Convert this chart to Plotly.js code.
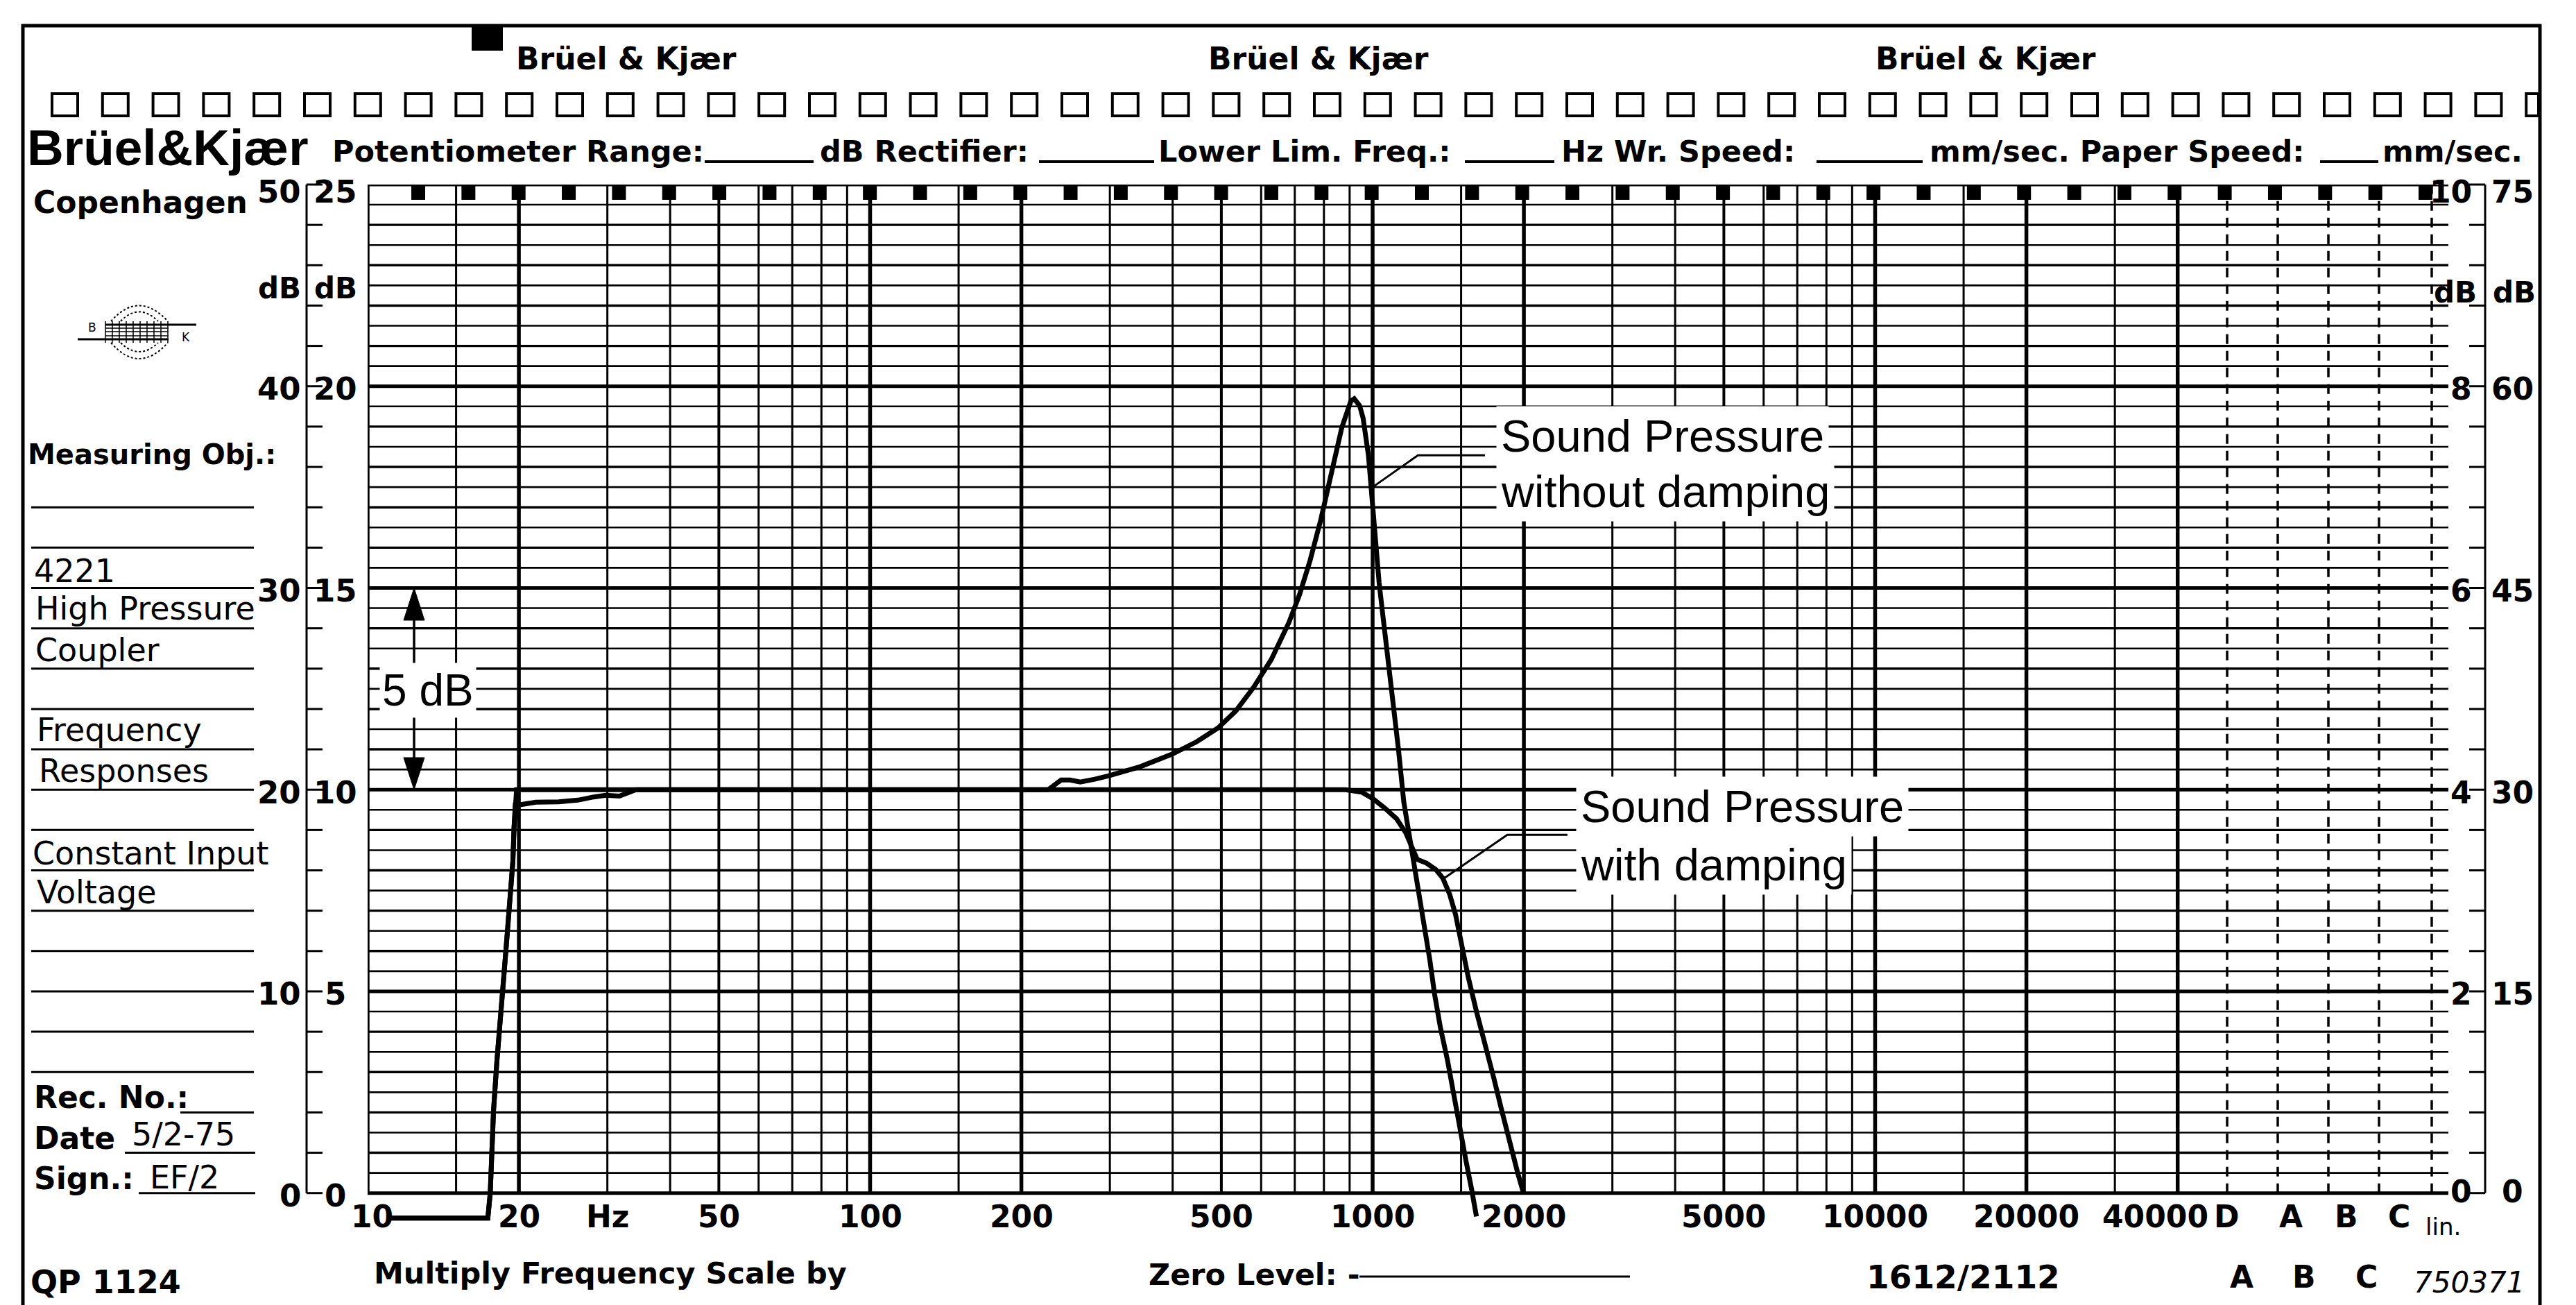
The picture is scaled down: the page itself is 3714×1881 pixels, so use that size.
<!DOCTYPE html>
<html><head><meta charset="utf-8">
<script src="https://cdn.plot.ly/plotly-3.0.1.min.js"></script>
<style>html,body{margin:0;padding:0;background:#fff;overflow:hidden}#chart{width:3714px;height:1881px}</style>
</head><body><div id="chart"></div>
<script>
// ---------------- data (read from the recording) ----------------
const freqWithoutDamping = [11.1, 17.35, 17.54, 17.81, 18.09, 18.37, 18.66, 18.96, 19.26, 19.46, 19.56, 19.67, 20.0, 21.6, 24.0, 26.2, 28.2, 29.8, 31.7, 34.2, 60, 120, 226, 233, 240, 250, 262, 280, 297.9, 344.7, 398.9, 446.8, 492.5, 534.1, 579.2, 628.2, 681.3, 715.2, 750.8, 788.2, 827.4, 868.6, 904.9, 919.3, 942.1, 957.4, 981.0, 997.2, 1013.5, 1030.1, 1046.9, 1072.5, 1099, 1125.9, 1153.7, 1207.6, 1240, 1266.5, 1300.5, 1328.3, 1364, 1409.4, 1447, 1484.8, 1532.9, 1574.7, 1609.2];
const dbWithoutDamping = [-0.62, -0.62, 0, 2.06, 3.29, 4.52, 5.35, 6.42, 7.40, 8.23, 9.05, 9.62, 9.62, 9.69, 9.70, 9.74, 9.82, 9.86, 9.84, 10.0, 10.0, 10.0, 10.0, 10.12, 10.24, 10.24, 10.19, 10.26, 10.34, 10.57, 10.88, 11.19, 11.53, 11.95, 12.53, 13.22, 14.14, 14.83, 15.68, 16.68, 17.90, 18.98, 19.63, 19.69, 19.52, 19.21, 18.29, 17.14, 15.99, 15.14, 14.37, 13.30, 12.15, 10.99, 9.69, 8.23, 7.40, 6.58, 5.76, 4.93, 4.11, 3.29, 2.47, 1.64, 0.82, 0.08, -0.58];
const freqWithDamping = [11.1, 17.35, 17.54, 17.81, 18.09, 18.37, 18.66, 18.96, 19.26, 19.46, 19.56, 19.67, 19.79, 40, 100, 300, 600, 883, 951, 1003, 1058, 1116, 1164, 1202, 1227, 1280, 1336, 1379, 1424, 1462, 1501, 1550, 1608, 1668, 1740, 1806, 1874, 1945, 1997];
const dbWithDamping = [-0.62, -0.62, 0, 2.06, 3.29, 4.52, 5.35, 6.42, 7.40, 8.23, 9.05, 9.62, 10.0, 10.0, 10.0, 10.0, 10.0, 10.0, 9.94, 9.77, 9.54, 9.28, 8.93, 8.51, 8.27, 8.18, 8.02, 7.81, 7.40, 6.91, 6.17, 5.35, 4.52, 3.70, 2.88, 2.06, 1.23, 0.49, 0.0];
const leaderWithoutFreq = [1000, 1231, 1673];
const leaderWithoutDb = [17.5, 18.29, 18.29];
const leaderWithFreq = [1379, 1854, 2442];
const leaderWithDb = [7.78, 8.88, 8.88];

const freqTickValues = [10, 20, 30, 50, 100, 200, 500, 1000, 2000, 5000, 10000, 20000, 40000];
const freqTickLabels = ['10', '20', 'Hz', '50', '100', '200', '500', '1000', '2000', '5000', '10000', '20000', '40000'];
const gridDecades = [10, 100, 1000, 10000];
const gridMultipliers = [1, 1.5, 2, 3, 4, 5, 6, 7, 8, 9];
const gridMaxFreq = 40000;
const filterLabels = ['D', 'A', 'B', 'C', 'lin.'];
const scaleDbValues = [0, 5, 10, 15, 20, 25];
const leftScaleOuter = ['0', '10', '20', '30', '40', '50'];
const leftScaleInner = ['0', '5', '10', '15', '20', '25'];
const rightScaleInner = ['0', '2', '4', '6', '8', '10'];
const rightScaleOuter = ['0', '15', '30', '45', '60', '75'];

// ---------------- geometry ----------------
const W = 3714, H = 1881;
const M = {l: 530, r: 184, t: 266, b: 45};
const PW = W - M.l - M.r, PH = H - M.t - M.b;
const DECADE_PX = 724.5;
const X_RANGE = [1, 1 + PW / DECADE_PX];
const Y_RANGE = [-2, 25];
const px = v => (v - M.l) / PW;
const py = v => (H - M.b - v) / PH;
const dbPy = d => H - M.b - (d - Y_RANGE[0]) / (Y_RANGE[1] - Y_RANGE[0]) * PH;
const freqOfPx = p => Math.pow(10, X_RANGE[0] + (p - M.l) / PW * (X_RANGE[1] - X_RANGE[0]));
const FONT_DJ = '"DejaVu Sans", "Liberation Sans", sans-serif';
const FONT_LS = '"Liberation Sans", Arial, sans-serif';
const INK = '#000';

// ---------------- traces ----------------
const traces = [];
function gridTrace(xs, ys, w, dash) {
  traces.push({type: 'scatter', mode: 'lines', x: xs, y: ys, hoverinfo: 'skip',
    line: {color: INK, width: w, dash: dash || 'solid'}, showlegend: false});
}
// vertical log grid
const vHeavy = {x: [], y: []}, vMed = {x: [], y: []}, vLight = {x: [], y: []};
gridDecades.forEach(d => gridMultipliers.forEach(m => {
  const f = d * m;
  if (f > gridMaxFreq) return;
  const g = (m === 1 || m === 2) ? vHeavy : (m === 5 ? vMed : vLight);
  g.x.push(f, f, null); g.y.push(0, 25, null);
}));
vHeavy.x.push(gridMaxFreq, gridMaxFreq, null); vHeavy.y.push(0, 25, null);
// horizontal grid (0.5 dB)
const hHeavy = {x: [], y: []}, hMed = {x: [], y: []}, hLight = {x: [], y: []};
const xEnd = Math.pow(10, X_RANGE[1]);
for (let k = 0; k <= 50; k++) {
  const d = k / 2;
  const g = (d % 5 === 0) ? hHeavy : (Number.isInteger(d) ? hMed : hLight);
  g.x.push(10, xEnd, null); g.y.push(d, d, null);
}
gridTrace(hLight.x, hLight.y, 2.6);
gridTrace(hMed.x, hMed.y, 3.4);
gridTrace(hHeavy.x, hHeavy.y, 5);
gridTrace(vLight.x, vLight.y, 3);
gridTrace(vMed.x, vMed.y, 4);
gridTrace(vHeavy.x, vHeavy.y, 5.5);
// dashed weighting-filter lines beyond 40 kHz
const filterLinePx = [3211, 3284, 3357, 3430, 3506];
const fl = {x: [], y: []};
filterLinePx.forEach(p => { const f = freqOfPx(p); fl.x.push(f, f, null); fl.y.push(0, 25, null); });
gridTrace(fl.x, fl.y, 3.5, '14px,10px');

// leader lines
gridTrace(leaderWithoutFreq, leaderWithoutDb, 3);
gridTrace(leaderWithFreq, leaderWithDb, 3);

// response curves
traces.push({type: 'scatter', mode: 'lines', name: 'Sound Pressure without damping',
  x: freqWithoutDamping, y: dbWithoutDamping, hoverinfo: 'skip',
  line: {color: INK, width: 7, shape: 'linear'}});
traces.push({type: 'scatter', mode: 'lines', name: 'Sound Pressure with damping',
  x: freqWithDamping, y: dbWithDamping, hoverinfo: 'skip',
  line: {color: INK, width: 7, shape: 'linear'}});

// ---------------- shapes ----------------
const shapes = [];
function lineP(x0, y0, x1, y1, w, dash) {
  shapes.push({type: 'line', xref: 'paper', yref: 'paper', x0: px(x0), y0: py(y0), x1: px(x1), y1: py(y1),
    line: {color: INK, width: w, dash: dash || 'solid'}});
}
function rectP(x0, y0, x1, y1, fill, w) {
  shapes.push({type: 'rect', xref: 'paper', yref: 'paper', x0: px(x0), y0: py(y0), x1: px(x1), y1: py(y1),
    fillcolor: fill || 'rgba(0,0,0,0)', line: {color: INK, width: w || 0}});
}
function pathP(cmds, fill, w, dash) {
  const s = cmds.map(c => typeof c === 'string' ? c : (px(c[0]).toFixed(6) + ',' + py(c[1]).toFixed(6))).join(' ');
  shapes.push({type: 'path', xref: 'paper', yref: 'paper', path: s,
    fillcolor: fill || 'rgba(0,0,0,0)', line: {color: INK, width: w || 0, dash: dash || 'solid'}});
}
// outer frame
lineP(31, 37, 3664, 37, 5);
lineP(33, 35, 33, 1881, 5);
lineP(3662, 35, 3662, 1881, 5);
// header marker & sprocket squares
rectP(680, 38, 725, 73, INK, 0);
for (let k = 0; k < 50; k++) {
  const x0 = 75 + 72.8 * k;
  rectP(x0, 135, Math.min(x0 + 37, 3660), 167, null, 4);
}
// header blanks
[[1016, 1173], [1498, 1664], [2112, 2241], [2619, 2772], [3345, 3429]].forEach(s => lineP(s[0], 233, s[1], 233, 4));
// teeth under the top grid line
for (let k = 0; k <= 40; k++) {
  const c = 603 + 72.35 * k;
  rectP(c - 10, 266, c + 10, 288, INK, 0);
}
// left dB scale
lineP(442, 266, 442, dbPy(0), 3);
for (let d = 0; d <= 25; d++) lineP(442, dbPy(d), 465, dbPy(d), 3);
// right dB scale
lineP(3583, 266, 3583, dbPy(0), 3);
for (let d = 0; d <= 25; d++) lineP(3560, dbPy(d), 3583, dbPy(d), 3);
// form rule lines at left
for (let d = 3; d <= 17; d++) lineP(45, dbPy(d), 366, dbPy(d), 3);
lineP(260, dbPy(2), 366, dbPy(2), 3);
lineP(180, dbPy(1), 368, dbPy(1), 3);
lineP(200, dbPy(0), 368, dbPy(0), 3);
// B&K logo
lineP(152, 468, 283, 468, 3);
lineP(112, 489, 243, 489, 3);
[473, 478, 484].forEach(y => lineP(152, y, 243, y, 1.5));
for (let x = 152; x <= 243; x += 10) lineP(x, 463, x, 494, 1.5);
pathP(['M', [160, 463], 'Q', [200, 418], [242, 463]], null, 2, 'dot');
pathP(['M', [174, 463], 'Q', [200, 436], [228, 463]], null, 2, 'dot');
pathP(['M', [160, 494], 'Q', [200, 540], [242, 494]], null, 2, 'dot');
pathP(['M', [174, 494], 'Q', [200, 520], [228, 494]], null, 2, 'dot');
// 5 dB arrows
const ax = 597;
pathP(['M', [ax - 15, 894], 'L', [ax, dbPy(15)], 'L', [ax + 15, 894], 'Z'], INK, 1);
lineP(ax, 894, ax, 957, 3.5);
lineP(ax, 1030, ax, 1092, 3.5);
pathP(['M', [ax - 15, 1092], 'L', [ax + 15, 1092], 'L', [ax, dbPy(10)], 'Z'], INK, 1);
// zero level blank
lineP(1960, 1840, 2350, 1840, 3);

// ---------------- annotations ----------------
const annotations = [];
function note(text, x, y, o) {
  o = o || {};
  const a = {text: text, xref: 'paper', yref: 'paper', x: px(x), y: py(y),
    xanchor: o.anchor || 'left', yanchor: 'middle', showarrow: false,
    font: {family: o.family || FONT_DJ, size: o.size || 44, color: INK,
      weight: o.weight || 'normal', style: o.style || 'normal'}};
  if (o.bg) { a.bgcolor = '#fff'; a.borderpad = o.pad || 4; }
  annotations.push(a);
}
// header
[742, 1740, 2702].forEach(x => note('Brüel & Kjær', x, 84, {size: 44, weight: 'bold'}));
note('Brüel&Kjær', 37, 212, {family: FONT_LS, size: 73, weight: 'bold'});
[['Potentiometer Range:', 477], ['dB Rectifier:', 1180], ['Lower Lim. Freq.:', 1668],
 ['Hz Wr. Speed:', 2249], ['mm/sec. Paper Speed:', 2780], ['mm/sec.', 3433]]
  .forEach(t => note(t[0], t[1], 218, {size: 43, weight: 'bold'}));
// left panel
note('Copenhagen', 46, 291, {size: 44, weight: 'bold'});
note('Measuring Obj.:', 38, 655, {size: 40, weight: 'bold'});
[['4221', 47, 823], ['High Pressure', 49, 877], ['Coupler', 49, 937], ['Frequency', 51, 1052],
 ['Responses', 54, 1111], ['Constant Input', 45, 1230], ['Voltage', 51, 1286],
 ['5/2-75', 188, 1635], ['EF/2', 214, 1697]]
  .forEach(t => note(t[0], t[1], t[2], {size: 46}));
[['Rec. No.:', 47, 1581], ['Date', 47, 1640], ['Sign.:', 47, 1698]]
  .forEach(t => note(t[0], t[1], t[2], {size: 44, weight: 'bold'}));
note('QP 1124', 42, 1848, {size: 46, weight: 'bold'});
note('B', 125, 472, {size: 17});
note('K', 260, 486, {size: 17});
// dB scales
scaleDbValues.forEach((d, i) => {
  const shift = d === 25 ? -10 : -4;
  annotations.push({text: leftScaleOuter[i], xref: 'paper', yref: 'y', x: px(436), y: d, yshift: shift,
    xanchor: 'right', yanchor: 'middle', showarrow: false, font: {family: FONT_DJ, size: 45, color: INK, weight: 'bold'}});
  annotations.push({text: leftScaleInner[i], xref: 'paper', yref: 'y', x: px(483), y: d, yshift: shift,
    xanchor: 'center', yanchor: 'middle', showarrow: false, font: {family: FONT_DJ, size: 45, color: INK, weight: 'bold'}});
  annotations.push({text: rightScaleInner[i], xref: 'paper', yref: 'y', x: px(3566), y: d, yshift: d === 0 ? 2 : shift,
    xanchor: 'right', yanchor: 'middle', showarrow: false, font: {family: FONT_DJ, size: 44, color: INK, weight: 'bold'}});
  annotations.push({text: rightScaleOuter[i], xref: 'paper', yref: 'y', x: px(3623), y: d, yshift: d === 0 ? 2 : shift,
    xanchor: 'center', yanchor: 'middle', showarrow: false, font: {family: FONT_DJ, size: 44, color: INK, weight: 'bold'}});
});
note('dB', 436, 415, {anchor: 'right', size: 42, weight: 'bold'});
note('dB', 451, 415, {size: 42, weight: 'bold'});
note('dB', 3573, 421, {anchor: 'right', size: 42, weight: 'bold'});
note('dB', 3592, 421, {size: 42, weight: 'bold'});
// frequency labels (through the log axis)
freqTickValues.forEach((f, i) => {
  annotations.push({text: freqTickLabels[i], xref: 'x', yref: 'paper', x: Math.log10(f), y: py(1753),
    xshift: f === 40000 ? -32 : (f === 10 ? 6 : 0),
    xanchor: 'center', yanchor: 'middle', showarrow: false, font: {family: FONT_DJ, size: 44, color: INK, weight: 'bold'}});
});
[3210, 3303, 3383, 3459].forEach((x, i) => note(filterLabels[i], x, 1753, {anchor: 'center', size: 44, weight: 'bold'}));
note(filterLabels[4], 3522, 1768, {anchor: 'center', size: 34});
// bottom line
note('Multiply Frequency Scale by', 537, 1835, {size: 43, weight: 'bold'});
note('Zero Level: -', 1654, 1837, {size: 43, weight: 'bold'});
note('1612/2112', 2689, 1840, {size: 47, weight: 'bold'});
[3232, 3322, 3412].forEach((x, i) => note(['A', 'B', 'C'][i], x, 1840, {anchor: 'center', size: 44, weight: 'bold'}));
note('750371', 3478, 1848, {size: 42, style: 'italic'});
// chart callouts
note('5 dB', 617, 995, {anchor: 'center', family: FONT_LS, size: 64, bg: true, pad: 3});
note('Sound Pressure', 2157, 628, {family: FONT_LS, size: 65, bg: true, pad: 6});
note('without damping', 2157, 708, {family: FONT_LS, size: 65, bg: true, pad: 6});
note('Sound Pressure', 2272, 1162, {family: FONT_LS, size: 65, bg: true, pad: 6});
note('with damping', 2272, 1246, {family: FONT_LS, size: 65, bg: true, pad: 6});

const layout = {
  width: W, height: H,
  margin: {l: M.l, r: M.r, t: M.t, b: M.b, pad: 0},
  paper_bgcolor: '#fff', plot_bgcolor: '#fff',
  showlegend: false,
  xaxis: {type: 'log', range: X_RANGE, autorange: false, showgrid: false, zeroline: false,
    showline: false, ticks: '', showticklabels: false, fixedrange: true},
  yaxis: {range: Y_RANGE, autorange: false, showgrid: false, zeroline: false,
    showline: false, ticks: '', showticklabels: false, fixedrange: true},
  shapes: shapes,
  annotations: annotations
};
Plotly.newPlot('chart', traces, layout, {staticPlot: true, displayModeBar: false});
</script>
</body></html>
